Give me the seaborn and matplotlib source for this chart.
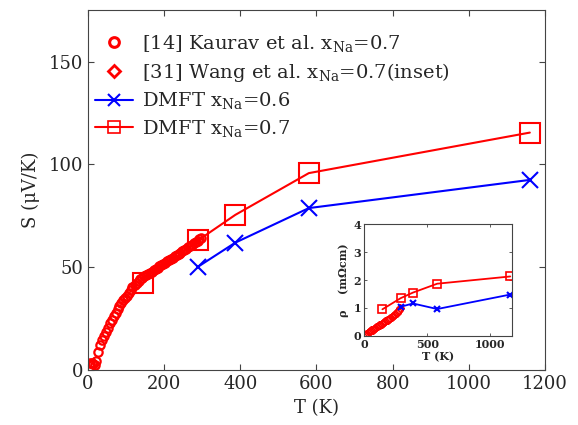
import matplotlib
matplotlib.use("Agg")
import matplotlib.pyplot as plt
import seaborn as sns
import pandas as pd
from matplotlib.lines import Line2D

# ---------------- data ----------------
# DMFT results (main panel: thermopower S in uV/K)
T_dmft07 = [145, 290, 387, 580, 1160]
S_dmft07 = [42.5, 63.2, 75.5, 95.8, 115.5]
T_dmft06 = [290, 387, 580, 1160]
S_dmft06 = [50.4, 62.0, 78.8, 92.5]

# Experiment [14] Kaurav et al. x_Na=0.7 (main panel)
T_exp = [6, 10, 14, 18, 22, 27, 32, 37, 42, 47, 52, 58, 63, 68, 73, 78, 83,
         88, 93, 98, 102, 107, 112, 117, 123, 128, 133, 138, 143, 148, 153,
         158, 163, 168, 173, 178, 183, 188, 193, 198, 203, 208, 213, 218,
         223, 228, 233, 238, 243, 248, 253, 258, 263, 268, 273, 278, 283,
         288, 293, 298]
S_exp = [3.6, 3.3, 2.8, 2.4, 4.5, 9.0, 12.0, 14.5, 16.6, 18.6, 20.6, 22.7,
         24.6, 26.4, 28.0, 29.6, 31.1, 32.6, 34.0, 35.1, 36.2, 37.6, 39.0,
         40.2, 41.4, 42.4, 43.4, 44.2, 44.9, 45.6, 46.3, 46.9, 47.4, 47.9,
         48.5, 49.2, 49.8, 50.5, 51.1, 51.8, 52.3, 52.9, 53.5, 54.0, 54.6,
         55.3, 55.9, 56.5, 57.2, 57.8, 58.5, 59.1, 59.8, 60.4, 61.0, 61.7,
         62.3, 63.0, 63.6, 64.3]

# Inset: resistivity rho (mOhm cm)
Ti_dmft07 = [145, 290, 387, 580, 1160]
R_dmft07 = [0.95, 1.35, 1.55, 1.87, 2.13]
Ti_dmft06 = [290, 387, 580, 1160]
R_dmft06 = [1.04, 1.16, 0.96, 1.48]
# [31] Wang et al. x_Na=0.7
Ti_exp = [8, 18, 28, 38, 48, 58, 68, 78, 88, 98, 108, 118, 128, 138, 148,
          158, 168, 178, 188, 198, 208, 218, 228, 238, 248, 258, 268, 278,
          288]
R_exp = [0.02, 0.06, 0.10, 0.13, 0.16, 0.19, 0.22, 0.25, 0.28, 0.31, 0.34,
         0.37, 0.40, 0.43, 0.46, 0.49, 0.52, 0.55, 0.58, 0.61, 0.64, 0.68,
         0.71, 0.75, 0.79, 0.83, 0.88, 0.93, 0.98]

main_xticks = [0, 200, 400, 600, 800, 1000, 1200]
main_yticks = [0, 50, 100, 150]
inset_xticks = [0, 500, 1000]
inset_yticks = [0, 1, 2, 3, 4]

legend_labels = [r"[14] Kaurav et al. x$_{\mathrm{Na}}$=0.7",
                 r"[31] Wang et al. x$_{\mathrm{Na}}$=0.7(inset)",
                 r"DMFT x$_{\mathrm{Na}}$=0.6",
                 r"DMFT x$_{\mathrm{Na}}$=0.7"]

# ---------------- style ----------------
sns.set_style("ticks")
plt.rcParams["font.family"] = ["DejaVu Serif"]
plt.rcParams["mathtext.fontset"] = "dejavuserif"
plt.rcParams["axes.edgecolor"] = "#444444"

RED = "#ff0000"
BLUE = "#0000ff"

fig = plt.figure(figsize=(5.78, 4.25), dpi=100)
ax = fig.add_axes([0.152, 0.129, 0.791, 0.847])

df_exp = pd.DataFrame({"T": T_exp, "S": S_exp})
df07 = pd.DataFrame({"T": T_dmft07, "S": S_dmft07})
df06 = pd.DataFrame({"T": T_dmft06, "S": S_dmft06})

sns.lineplot(data=df_exp, x="T", y="S", ax=ax, linestyle="", marker="o",
             markersize=6, markerfacecolor="none", markeredgecolor=RED,
             markeredgewidth=1.6, color=RED, estimator=None, sort=False)
sns.lineplot(data=df06, x="T", y="S", ax=ax, color=BLUE, lw=1.5, marker="x",
             markersize=12, markeredgewidth=1.5, markeredgecolor=BLUE,
             estimator=None, sort=False)
sns.lineplot(data=df07, x="T", y="S", ax=ax, color=RED, lw=1.5, marker="s",
             markersize=14, markerfacecolor="none", markeredgecolor=RED,
             markeredgewidth=1.5, estimator=None, sort=False)

ax.set_xlim(0, 1200)
ax.set_ylim(0, 175)
ax.set_xticks(main_xticks)
ax.set_yticks(main_yticks)
ax.tick_params(direction="in", top=True, right=True, labelsize=13,
               length=4, width=0.8, color="#444444")
ax.set_xlabel("T (K)", fontsize=13, labelpad=4)
ax.set_ylabel("S (μV/K)", fontsize=13, labelpad=6)

handles = [
    Line2D([], [], linestyle="", marker="o", markersize=7, mfc="none",
           mec=RED, mew=2.2),
    Line2D([], [], linestyle="", marker="D", markersize=6.5, mfc="none",
           mec=RED, mew=2.0),
    Line2D([], [], color=BLUE, lw=1.5, marker="x", markersize=9, mew=1.5),
    Line2D([], [], color=RED, lw=1.5, marker="s", markersize=9, mfc="none",
           mew=1.2),
]
ax.legend(handles, legend_labels, loc="upper left", frameon=False,
          fontsize=14, handlelength=2.0, handletextpad=0.45,
          labelspacing=0.35, borderaxespad=0.3, bbox_to_anchor=(-0.015, 0.975))

# ---------------- inset ----------------
ins = fig.add_axes([0.630, 0.210, 0.255, 0.262])
di_exp = pd.DataFrame({"T": Ti_exp, "R": R_exp})
di07 = pd.DataFrame({"T": Ti_dmft07, "R": R_dmft07})
di06 = pd.DataFrame({"T": Ti_dmft06, "R": R_dmft06})
sns.lineplot(data=di_exp, x="T", y="R", ax=ins, linestyle="", marker="D",
             markersize=4, markerfacecolor="none", markeredgecolor=RED,
             markeredgewidth=1.0, color=RED, estimator=None, sort=False)
sns.lineplot(data=di06, x="T", y="R", ax=ins, color=BLUE, lw=1.3, marker="x",
             markersize=5, markeredgewidth=1.5, markeredgecolor=BLUE,
             estimator=None, sort=False)
sns.lineplot(data=di07, x="T", y="R", ax=ins, color=RED, lw=1.3, marker="s",
             markersize=6, markerfacecolor="none", markeredgecolor=RED,
             markeredgewidth=1.2, estimator=None, sort=False)
ins.set_xlim(0, 1170)
ins.set_ylim(0, 4)
ins.set_xticks(inset_xticks)
ins.set_yticks(inset_yticks)
ins.tick_params(direction="in", top=True, right=True, labelsize=8,
                length=2.5, width=0.6, color="#444444", pad=2)
for lab in ins.get_xticklabels() + ins.get_yticklabels():
    lab.set_fontweight("bold")
ins.set_xlabel("T (K)", fontsize=8, labelpad=1, fontweight="bold")
ins.set_ylabel("ρ    (mΩcm)", fontsize=8, labelpad=3, fontweight="bold")

fig.savefig("out.png", dpi=100)
